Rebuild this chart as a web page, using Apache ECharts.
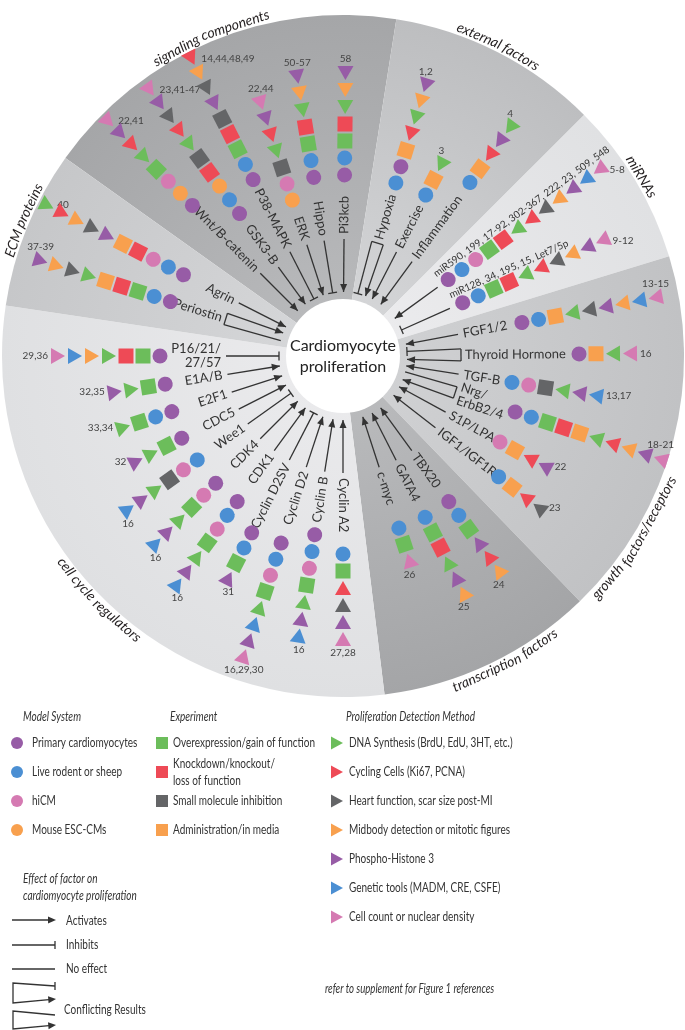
<!DOCTYPE html>
<html>
<head>
<meta charset="utf-8">
<title>Cardiomyocyte proliferation</title>
<script src="https://cdn.jsdelivr.net/npm/echarts@6/dist/echarts.min.js"></script>
<style>
  html, body { margin: 0; padding: 0; background: #fff; }
  #chart { width: 685px; height: 1030px; }
</style>
</head>
<body>
<div id="chart"></div>
<script>
// ---- data ----
var sectorNames = ['signaling components', 'external factors', 'miRNAs', 'growth factors/receptors',
  'transcription factors', 'cell cycle regulators', 'ECM proteins'];
// angular width of every sector (deg), clockwise from the ECM / signaling border
var sectorSpans = [63.5, 36, 28, 63, 37, 105.5, 27];

var factorNames = [
  'Wnt/B-catenin', 'GSK3-B', 'P38-MAPK', 'ERK', 'Hippo', 'Pi3kcb',
  'Hypoxia', 'Exercise', 'Inflammation',
  'miR590, 199, 17-92, 302-367, 222, 23, 509, 548', 'miR128, 34, 195, 15, Let7/5p',
  'FGF1/2', 'Thyroid Hormone', 'TGF-B', 'Nrg/\nErbB2/4', 'S1P/LPA', 'IGF1/IGF1R',
  'TBX20', 'GATA4', 'c-myc',
  'Cyclin A2', 'Cyclin B', 'Cyclin D2', 'Cyclin D2SV', 'CDK1', 'CDK4', 'Wee1', 'CDC5', 'E2F1', 'E1A/B', 'P16/21/\n27/57',
  'Periostin', 'Agrin'
];
// act = activates, inh = inhibits, c1 = inhibits/activates, c2 = no effect/activates
var factorEffects = ['act', 'act', 'inh', 'act', 'inh', 'act',
  'c1', 'act', 'act',
  'act', 'inh',
  'act', 'c1', 'act', 'c2', 'act', 'act',
  'act', 'act', 'act',
  'act', 'act', 'act', 'inh', 'act', 'act', 'inh', 'act', 'act', 'act', 'inh',
  'c2', 'act'];
// markers from the centre outwards
// c = model system (P primary, L live, H hiCM, E ESC-CM)
// s = experiment (G gain, K knockdown, S small molecule, A administration)
// t = detection (D DNA, C cycling, F heart fn, M midbody, P pH3, G genetic, N count)
var factorMarkers = [
  'cP cE cH sG tD tC tP tN',
  'cP cL cE sK sS tD tC tF tP tN',
  'cP cL sG sK sS tP tF tM tC',
  'cE cH sS tD tC tP tN',
  'cP cL sG sK tD tM tP',
  'cP cL sG sK tD tM tP',
  'cL cP sA tC tD tM tP',
  'cL sA tD',
  'cL sA tC tP tD',
  'cP cL cH sG sK tD tC tF tM tP tG tN',
  'cP cL sG sK tD tC tF tM tP tN',
  'cP cL sA tD tF tP tM tG tN',
  'cP sA tD tN',
  'cL cH sS tD tP tG',
  'cP cL sG sK sA tD tC tM tP tN',
  'cH sA tC tP',
  'cL sA tC tF',
  'cP cL sG tP tC tM',
  'cL sG sK tD tP tM',
  'cL sG tN',
  'cL sG tC tF tP tN',
  'cP cL cH sG tD tP tG',
  'cP cL cH sG tD tG tP tN',
  'cP cL sG tP',
  'cP cL cH sG tD tP tG',
  'cP cH sG tD tP tG',
  'cL cH sS tD tP tG',
  'cP sG tD tP',
  'cP cL sG tD',
  'cP sG tD tP',
  'cP sG sK tD tM tG tN',
  'cP cL sG sK sA tD tF tM tP',
  'cP cL cH sK sA tP tF tM tC tD'
];
var factorRefs = ['22,41', '23,41-47', '14,44,48,49', '22,44', '50-57', '58', '1,2', '3', '4', '5-8', '9-12',
  '13-15', '16', '13,17', '18-21', '22', '23', '24', '25', '26', '27,28', '16', '16,29,30', '31', '16', '16',
  '16', '32', '33,34', '32,35', '29,36', '37-39', '40'];

var modelNames = ['Primary cardiomyocytes', 'Live rodent or sheep', 'hiCM', 'Mouse ESC-CMs'];
var experimentNames = ['Overexpression/gain of function', 'Knockdown/knockout/loss of function',
  'Small molecule inhibition', 'Administration/in media'];
var detectionNames = ['DNA Synthesis (BrdU, EdU, 3HT, etc.)', 'Cycling Cells (Ki67, PCNA)',
  'Heart function, scar size post-MI', 'Midbody detection or mitotic figures', 'Phospho-Histone 3',
  'Genetic tools (MADM, CRE, CSFE)', 'Cell count or nuclear density'];
var groupTitles = ['Model System', 'Experiment', 'Proliferation Detection Method'];
var effectNames = ['Activates', 'Inhibits', 'No effect', 'Conflicting Results'];

// ---- layout ----
var CX = 343, CY = 356, R = 341;
var sectorStart = -54.5;
var sectorTitleAngles = [337.5, 26.6, 59, 122, 152, 225, 293];
var factorAngles = [315, 324, 333, 342, 350.7, 0.5, 17, 27.2, 36.2, 54, 66, 79.4, 89.5, 98.9, 108, 118.7, 127.8,
  144, 153, 162, 180, 189, 198.3, 207.3, 216, 225, 234.5, 243, 252, 261, 270, 287.5, 297];
var factorStarts = [213, 176, 198, 164, 181, 181, 181, 181, 215, 130, 131, 182, 236, 171, 181, 179, 197,
  180, 181, 181, 198, 181, 197, 199, 180, 180, 179, 181, 180, 180, 183, 181, 179];
var refSides = ['right', 'right', 'right', 'above', 'above', 'above', 'above', 'above', 'above', 'right', 'right',
  'above', 'right', 'right', 'above', 'right', 'right', 'below', 'below', 'below', 'below', 'below', 'below',
  'below', 'below', 'below', 'below', 'left', 'left', 'left', 'left', 'above', 'right'];
var labelTweaks = { 1: { r: 114 }, 9: { shift: -12, size: 10 }, 10: { shift: -12, size: 10 }, 31: { r: 126 } };
var STEP = 17, TIP = 64, LABEL_R = 121;

var FONT = 'Lato, "Open Sans", sans-serif';
var INK = '#333';
var NARROW_SCALE = 0.77; // the legend face is a condensed one

var sectorColors = [
  ['#b8b9bb', '#a5a6a8'], ['#d4d5d7', '#bdbec0'], ['#ebebed', '#e0e1e3'], ['#d0d1d3', '#c1c2c4'],
  ['#b9babc', '#a4a5a7'], ['#eaeaec', '#dfe0e2'], ['#d5d6d8', '#c6c7c9']
];
var markerStyle = {
  cP: ['circle', '#975ca6'], cL: ['circle', '#4b8fd3'], cH: ['circle', '#d57ab2'], cE: ['circle', '#f8a04e'],
  sG: ['rect', '#6cbd5b'], sK: ['rect', '#ee4a56'], sS: ['rect', '#646567'], sA: ['rect', '#f8a04e'],
  tD: ['triangle', '#6cbd5b'], tC: ['triangle', '#ee4a56'], tF: ['triangle', '#646567'], tM: ['triangle', '#f8a04e'],
  tP: ['triangle', '#975ca6'], tG: ['triangle', '#4b8fd3'], tN: ['triangle', '#d57ab2']
};
var legendCodes = [['cP', 'cL', 'cH', 'cE'], ['sG', 'sK', 'sS', 'sA'], ['tD', 'tC', 'tF', 'tM', 'tP', 'tG', 'tN']];
var legendNames = [modelNames, experimentNames, detectionNames];

var measureCtx = document.createElement('canvas').getContext('2d');
function textWidth(t, font) {
  measureCtx.font = font;
  return measureCtx.measureText(t).width;
}

// markers grouped into one scatter series per legend entry
var markerData = {};
factorMarkers.forEach(function (list, i) {
  var a = factorAngles[i];
  list.split(' ').forEach(function (code, k) {
    var shape = markerStyle[code][0];
    var rot = shape === 'triangle' ? 180 - a : -a; // triangles point to the centre
    (markerData[code] = markerData[code] || []).push({
      value: [factorStarts[i] + STEP * k, a],
      symbolRotate: rot
    });
  });
});

var markerSeries = [];
legendCodes.forEach(function (codes, g) {
  codes.forEach(function (code, k) {
    var shape = markerStyle[code][0];
    markerSeries.push({
      type: 'scatter',
      name: legendNames[g][k],
      coordinateSystem: 'polar',
      symbol: shape,
      symbolSize: shape === 'triangle' ? [16, 14] : 15,
      itemStyle: { color: markerStyle[code][1], opacity: 1 },
      data: markerData[code] || [],
      silent: true,
      z: 4
    });
  });
});

function line(p, q, w) {
  return { type: 'line', shape: { x1: p[0], y1: p[1], x2: q[0], y2: q[1] }, style: { stroke: INK, lineWidth: w || 1.3 } };
}
function arrowHead(from, tip) {
  var dx = tip[0] - from[0], dy = tip[1] - from[1], L = Math.sqrt(dx * dx + dy * dy);
  var ux = dx / L, uy = dy / L, bx = tip[0] - ux * 8, by = tip[1] - uy * 8;
  return {
    type: 'polygon',
    shape: { points: [tip, [bx - uy * 3.5, by + ux * 3.5], [bx + uy * 3.5, by - ux * 3.5]] },
    style: { fill: INK }
  };
}
function tBar(from, tip) {
  var dx = tip[0] - from[0], dy = tip[1] - from[1], L = Math.sqrt(dx * dx + dy * dy);
  var ux = dx / L, uy = dy / L;
  return line([tip[0] - uy * 4.5, tip[1] + ux * 4.5], [tip[0] + uy * 4.5, tip[1] - ux * 4.5]);
}

function renderFactor(params, api) {
  var i = api.value(2), a = api.value(1), rL = api.value(0);
  var t = a * Math.PI / 180;
  var cw = [Math.cos(t), Math.sin(t)];
  function pt(r, off) {
    var p = api.coord([r, a]);
    off = off || 0;
    return [p[0] + cw[0] * off, p[1] + cw[1] * off];
  }
  var tw = labelTweaks[i] || {};
  var kids = [];
  var eff = factorEffects[i];

  // connector to the centre
  if (eff === 'c1' || eff === 'c2') {
    var b1 = pt(rL - 3, -6), b2 = pt(rL - 3, 6), t1 = pt(TIP, -4), t2 = pt(TIP, 4);
    kids.push(line(b1, b2));
    kids.push(line(b1, t1));
    if (eff === 'c1') kids.push(tBar(b1, t1));
    kids.push(line(b2, t2));
    kids.push(arrowHead(b2, t2));
  } else {
    var s = pt(rL - 4), tip = pt(TIP);
    kids.push(line(s, tip));
    kids.push(eff === 'inh' ? tBar(s, tip) : arrowHead(s, tip));
  }

  // factor name along the ray, never upside down
  var rot = 90 - a, flip = false;
  while (rot >= 90) { rot -= 180; flip = !flip; }
  while (rot < -90) { rot += 180; flip = !flip; }
  var lp = pt(rL + 1, tw.shift || 0);
  kids.push({
    type: 'text', x: lp[0], y: lp[1], rotation: rot * Math.PI / 180,
    style: {
      text: factorNames[i], fill: INK, fontSize: tw.size || 13, fontFamily: FONT,
      align: flip ? 'right' : 'left', verticalAlign: 'middle', lineHeight: 14
    }
  });

  // reference numbers next to the outermost marker
  var n = factorMarkers[i].split(' ').length;
  var m = api.coord([factorStarts[i] + STEP * (n - 1), a]);
  var side = refSides[i], rx = m[0], ry = m[1], al = 'center', va = 'middle';
  if (side === 'right') { rx += 10; al = 'left'; }
  if (side === 'left') { rx -= 10; al = 'right'; }
  if (side === 'above') { ry -= 9; va = 'bottom'; }
  if (side === 'below') { ry += 9; va = 'top'; }
  kids.push({
    type: 'text', x: rx, y: ry,
    style: { text: factorRefs[i], fill: '#444', fontSize: 10, fontFamily: FONT, align: al, verticalAlign: va }
  });
  return { type: 'group', children: kids };
}

var titleFont = 'italic 14px ' + FONT;
function renderSectorTitle(params, api) {
  var i = api.value(2), r = api.value(0), mid = api.value(1);
  var top = mid < 90 || mid > 270;
  var words = sectorNames[i].split(' ');
  var space = textWidth(' ', titleFont);
  var widths = words.map(function (w) { return textWidth(w, titleFont); });
  var total = widths.reduce(function (s, w) { return s + w; }, 0) + space * (words.length - 1);
  var pos = -total / 2, kids = [];
  words.forEach(function (w, k) {
    var off = (pos + widths[k] / 2) / r * 180 / Math.PI;
    var ang = top ? mid + off : mid - off;
    var p = api.coord([r, ang]);
    var rot = top ? -ang : 180 - ang;
    kids.push({
      type: 'text', x: p[0], y: p[1], rotation: rot * Math.PI / 180,
      style: { text: w, fill: '#231f20', fontSize: 14, fontStyle: 'italic', fontFamily: FONT, align: 'center', verticalAlign: 'middle' }
    });
    pos += widths[k] + space;
  });
  return { type: 'group', children: kids };
}

// ---- key below the wheel ----
function narrowText(x, y, text, opts) {
  opts = opts || {};
  return {
    type: 'text', x: x, y: y, scaleX: NARROW_SCALE,
    style: {
      text: text, fill: INK, fontSize: opts.size || 13, fontStyle: opts.italic ? 'italic' : 'normal',
      fontFamily: FONT, verticalAlign: 'middle', lineHeight: 17
    }
  };
}
var keyGraphic = [];
var keyIconX = [17, 162, 337], keyTextX = [32, 173, 349], keyTitleX = [23, 170, 346];
legendCodes.forEach(function (codes, g) {
  keyGraphic.push(narrowText(keyTitleX[g], 717, groupTitles[g], { italic: true }));
  codes.forEach(function (code, k) {
    var y = 743 + 29 * k, x = keyIconX[g], color = markerStyle[code][1];
    var shape = markerStyle[code][0];
    if (shape === 'circle') keyGraphic.push({ type: 'circle', shape: { cx: x, cy: y, r: 6 }, style: { fill: color } });
    if (shape === 'rect') keyGraphic.push({ type: 'rect', shape: { x: x - 6, y: y - 6, width: 12, height: 12 }, style: { fill: color } });
    if (shape === 'triangle') keyGraphic.push({ type: 'polygon', shape: { points: [[x - 6, y - 6.5], [x + 6, y], [x - 6, y + 6.5]] }, style: { fill: color } });
    var label = legendNames[g][k].replace('knockout/', 'knockout/\n');
    keyGraphic.push(narrowText(keyTextX[g], y, label));
  });
});
keyGraphic.push(narrowText(23, 887, 'Effect of factor on\ncardiomyocyte proliferation', { italic: true }));
keyGraphic.push(narrowText(325, 989, 'refer to supplement for Figure 1 references', { italic: true, size: 12.5 }));

// effect key glyphs
keyGraphic = keyGraphic.concat([
  { type: 'line', shape: { x1: 12, y1: 920, x2: 49, y2: 920 }, style: { stroke: INK, lineWidth: 1.3 } },
  { type: 'polygon', shape: { points: [[56, 920], [48, 916.5], [48, 923.5]] }, style: { fill: INK } },
  { type: 'line', shape: { x1: 12, y1: 945, x2: 55, y2: 945 }, style: { stroke: INK, lineWidth: 1.3 } },
  { type: 'line', shape: { x1: 55, y1: 941, x2: 55, y2: 949 }, style: { stroke: INK, lineWidth: 1.3 } },
  { type: 'line', shape: { x1: 12, y1: 969, x2: 55, y2: 969 }, style: { stroke: INK, lineWidth: 1.3 } },
  { type: 'polyline', shape: { points: [[55, 986], [13, 983], [13, 1003], [49, 999.6]] }, style: { stroke: INK, lineWidth: 1.3, fill: null } },
  { type: 'line', shape: { x1: 55, y1: 982, x2: 55, y2: 990 }, style: { stroke: INK, lineWidth: 1.3 } },
  { type: 'polygon', shape: { points: [[56, 999], [48, 996.2], [48.6, 1003.2]] }, style: { fill: INK } },
  { type: 'polyline', shape: { points: [[55, 1015], [13, 1011], [13, 1029], [49, 1025.6]] }, style: { stroke: INK, lineWidth: 1.3, fill: null } },
  { type: 'polygon', shape: { points: [[56, 1025], [48, 1022.2], [48.6, 1029.2]] }, style: { fill: INK } }
]);
[921, 945, 969, 1010].forEach(function (y, k) {
  keyGraphic.push(narrowText(k === 3 ? 64 : 66, y, effectNames[k]));
});

var chart = echarts.init(document.getElementById('chart'), null, { renderer: 'canvas' });

var option = {
  animation: false,
  backgroundColor: '#fff',
  textStyle: { fontFamily: FONT },
  polar: { center: [CX, CY], radius: 400 },
  angleAxis: { type: 'value', min: 0, max: 360, startAngle: 90, clockwise: true, show: false },
  radiusAxis: { type: 'value', min: 0, max: 400, show: false },
  graphic: keyGraphic,
  series: [
    {
      type: 'pie',
      silent: true,
      center: [CX, CY],
      radius: [0, R],
      startAngle: 90 - sectorStart,
      clockwise: true,
      label: { show: false },
      labelLine: { show: false },
      emphasis: { disabled: true },
      data: sectorNames.map(function (n, i) {
        return {
          name: n, value: sectorSpans[i],
          itemStyle: {
            borderWidth: 0,
            color: {
              type: 'radial', x: CX, y: CY, r: R, global: true,
              colorStops: [{ offset: 0.15, color: sectorColors[i][0] }, { offset: 1, color: sectorColors[i][1] }]
            }
          }
        };
      }),
      z: 1
    },
    {
      type: 'custom',
      coordinateSystem: 'polar',
      silent: true,
      encode: { radius: 0, angle: 1 },
      data: sectorNames.map(function (n, i) { return [348, sectorTitleAngles[i], i]; }),
      renderItem: renderSectorTitle,
      z: 2
    },
    {
      type: 'custom',
      coordinateSystem: 'polar',
      silent: true,
      encode: { radius: 0, angle: 1 },
      data: factorNames.map(function (n, i) {
        var tw = labelTweaks[i] || {};
        return [tw.r || LABEL_R, factorAngles[i], i];
      }),
      renderItem: renderFactor,
      z: 3
    }
  ].concat(markerSeries).concat([
    {
      type: 'pie',
      silent: true,
      center: [CX, CY],
      radius: [0, 57],
      label: {
        show: true, position: 'center', formatter: 'Cardiomyocyte\nproliferation',
        fontSize: 16, lineHeight: 21, color: '#222', fontFamily: FONT
      },
      labelLine: { show: false },
      emphasis: { disabled: true },
      itemStyle: { color: '#fff', borderWidth: 0 },
      data: [{ name: 'centre', value: 1 }],
      z: 6
    }
  ])
};

chart.setOption(option);
window.addEventListener('resize', function () { chart.resize(); });
</script>
</body>
</html>
